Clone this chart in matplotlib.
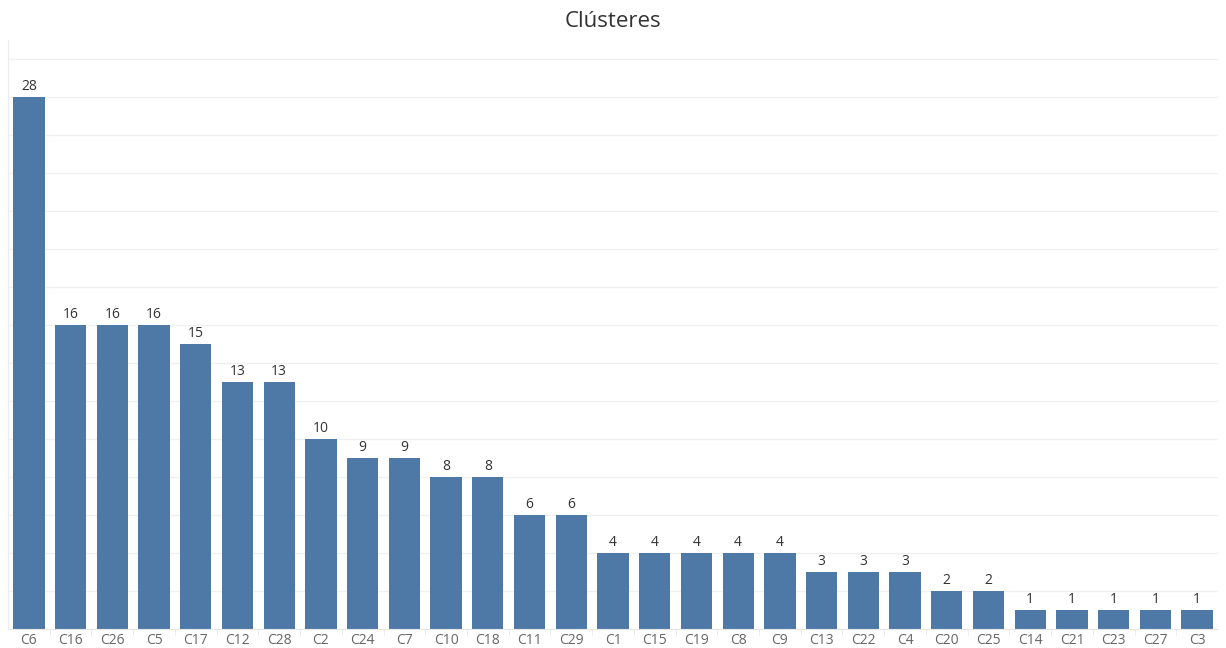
import numpy as np
import matplotlib.pyplot as plt

clusters = ["C6", "C16", "C26", "C5", "C17", "C12", "C28", "C2", "C24", "C7",
            "C10", "C18", "C11", "C29", "C1", "C15", "C19", "C8", "C9", "C13",
            "C22", "C4", "C20", "C25", "C14", "C21", "C23", "C27", "C3"]
counts = [28, 16, 16, 16, 15, 13, 13, 10, 9, 9,
          8, 8, 6, 6, 4, 4, 4, 4, 4, 3,
          3, 3, 2, 2, 1, 1, 1, 1, 1]

plt.rcParams['font.family'] = ['Open Sans', 'DejaVu Sans']

fig = plt.figure(figsize=(12.26, 6.48), dpi=100)
ax = fig.add_axes([8 / 1226, 19 / 648, 1210 / 1226, 589 / 648])

x = np.arange(len(clusters))
bars = ax.bar(x, counts, width=0.75, color="#4e79a7", zorder=2)
ax.bar_label(bars, padding=2, fontsize=10, color="#333333")

ax.set_xlim(-0.5, len(clusters) - 0.5)
ax.set_ylim(0, 31)
ax.set_xticks(x)
ax.set_xticklabels(clusters, fontsize=10, color="#666666")
ax.set_xticks(np.arange(0.5, len(clusters) - 1, 1), minor=True)
ax.tick_params(axis="x", which="major", length=0, pad=3)
ax.tick_params(axis="x", which="minor", length=4, color="#e6e6e6")
ax.set_yticks(np.arange(2, 31, 2))
ax.tick_params(axis="y", length=0, labelleft=False)
ax.grid(axis="y", color="#f0f0f0", linewidth=1, zorder=0)

for side in ["top", "right"]:
    ax.spines[side].set_visible(False)
ax.spines["left"].set_color("#ececec")
ax.spines["bottom"].set_color("#e6e6e6")

fig.suptitle("Clústeres", x=0.5, y=0.983, fontsize=16, color="#333333")

fig.savefig("out.png", dpi=100)
